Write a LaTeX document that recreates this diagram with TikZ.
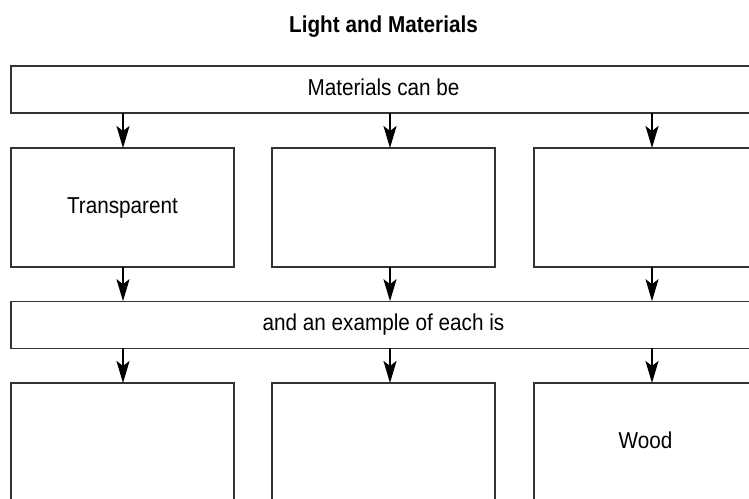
\documentclass[tikz,border=0pt]{standalone}
\usepackage{fontspec}
\setmainfont{Liberation Sans}[FakeStretch=0.9]
\usetikzlibrary{arrows.meta,calc}
\tikzset{
  box/.style={draw=black!80, line width=1.2pt, inner sep=0pt, outer sep=0pt,
    font=\fontsize{23}{27}\selectfont, text height=17pt, text depth=5pt},
  wide/.style={box, minimum width=745pt, minimum height=47pt},
  cell/.style={box, minimum width=223pt, minimum height=119pt},
  flow/.style={line width=2.2pt, -{Stealth[length=22pt,width=13pt,inset=5pt]}}
}
\begin{document}
\begin{tikzpicture}[x=1pt,y=-1pt]
\useasboundingbox (0,0) rectangle (749,498);
\clip (0,0) rectangle (749,498);
% heading
\node[font=\bfseries\fontsize{23}{27}\selectfont, anchor=base] (title) at (383.5,32) {Light and Materials};
% first band and the three kinds
\node[wide] (can) at (383.5,89.5) {Materials can be};
\node[cell] (k1) at (122.5,207.5) {Transparent};
\node[cell] (k2) at (383.5,207.5) {};
\node[cell] (k3) at (645.5,207.5) {};
% second band and the three examples
\node[wide] (each) at (383.5,324.7) {and an example of each is};
\node[cell] (x1) at (122.5,442.5) {};
\node[cell] (x2) at (383.5,442.5) {};
\node[cell] (x3) at (645.5,442.5) {Wood};
% arrows
\foreach \k/\x/\s in {k1/x1/0.5,k2/x2/6.5,k3/x3/6.5}{
  \draw[flow] ($(\k.north |- can.south)+(\s,0)$) -- ($(\k.north)+(\s,0)$);
  \draw[flow] ($(\k.south)+(\s,0)$) -- ($(\k.south |- each.north)+(\s,0)$);
  \draw[flow] ($(\x.north |- each.south)+(\s,0)$) -- ($(\x.north)+(\s,0)$);
}
\end{tikzpicture}
\end{document}
